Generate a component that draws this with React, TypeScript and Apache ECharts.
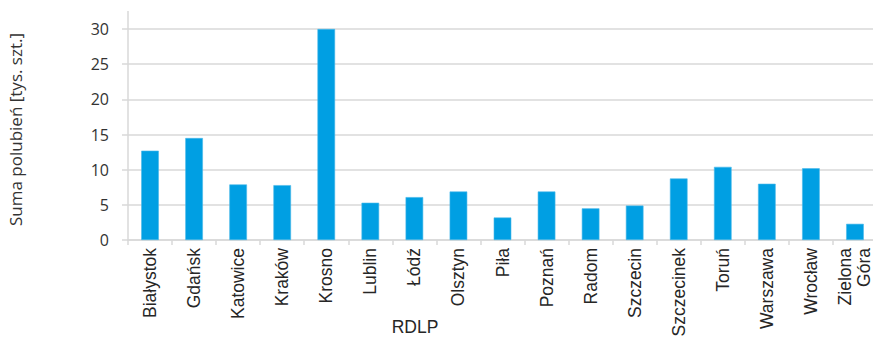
import React, { useEffect, useRef } from "react";
import * as echarts from "echarts";

const categories = [
  "Białystok", "Gdańsk", "Katowice", "Kraków", "Krosno", "Lublin", "Łódź", "Olsztyn",
  "Piła", "Poznań", "Radom", "Szczecin", "Szczecinek", "Toruń", "Warszawa", "Wrocław", "Zielona\nGóra",
];
const likes = [12.7, 14.5, 7.9, 7.8, 30, 5.3, 6.1, 6.9, 3.2, 6.9, 4.5, 4.9, 8.75, 10.4, 8.0, 10.2, 2.3];
const yTicks = { min: 0, max: 30, interval: 5 };
const yTitle = "Suma polubień [tys. szt.]";
const xTitle = "RDLP";

const GRID_LEFT = 128;
const GRID_TOP = 29;
const GRID_BOTTOM = 98;
const AXIS_TOP = 11;
const GRID_COLOR = "#d9d9d9";

export default function App() {
  const ref = useRef<HTMLDivElement>(null);
  useEffect(() => {
    if (!ref.current) return;
    const chart = echarts.init(ref.current, null, { renderer: "svg" });
    chart.setOption({
      animation: false,
      backgroundColor: "#ffffff",
      textStyle: { fontFamily: "Liberation Sans, Arial, sans-serif" },
      title: {
        text: xTitle,
        left: 410,
        top: 313,
        textAlign: "center",
        textStyle: { fontSize: 17.5, fontWeight: "normal", color: "#262626", fontFamily: "Liberation Sans" },
      },
      grid: {
        left: GRID_LEFT,
        top: GRID_TOP,
        bottom: GRID_BOTTOM,
        right: -4,
        containLabel: false,
        outerBoundsMode: "none",
      },
      xAxis: {
        type: "category",
        data: categories,
        axisLine: { show: true, lineStyle: { color: GRID_COLOR, width: 1.5 } },
        axisTick: { show: true, length: 5, lineStyle: { color: GRID_COLOR, width: 1.5 } },
        axisLabel: {
          rotate: 90,
          interval: 0,
          margin: 8,
          fontSize: 17.5,
          lineHeight: 19,
          color: "#262626",
          fontFamily: "Liberation Sans",
        },
        splitLine: { show: false },
      },
      yAxis: {
        type: "value",
        min: yTicks.min,
        max: yTicks.max,
        interval: yTicks.interval,
        name: yTitle,
        nameLocation: "middle",
        nameRotate: 90,
        nameGap: 104,
        nameTextStyle: { fontSize: 17, color: "#333333", fontFamily: "Open Sans", padding: [0, 0, 0, 10] },
        axisLine: { show: true, lineStyle: { color: GRID_COLOR, width: 1.5 } },
        axisTick: { show: true, length: 6, lineStyle: { color: GRID_COLOR, width: 1.5 } },
        axisLabel: { margin: 19, fontSize: 16, color: "#333333", fontFamily: "Open Sans" },
        splitLine: { show: true, lineStyle: { color: GRID_COLOR, width: 1.5 } },
      },
      graphic: [
        {
          type: "line",
          shape: { x1: GRID_LEFT, y1: AXIS_TOP, x2: GRID_LEFT, y2: GRID_TOP },
          style: { stroke: GRID_COLOR, lineWidth: 1.5 },
          silent: true,
        },
      ],
      series: [
        {
          type: "bar",
          data: likes,
          barWidth: "40%",
          itemStyle: { color: "#009fe3", borderColor: "#4ab8ea", borderWidth: 0.6 },
        },
      ],
    });
    return () => chart.dispose();
  }, []);
  return <div ref={ref} style={{ width: 873, height: 338, position: "absolute", left: 0, top: 0 }} />;
}
